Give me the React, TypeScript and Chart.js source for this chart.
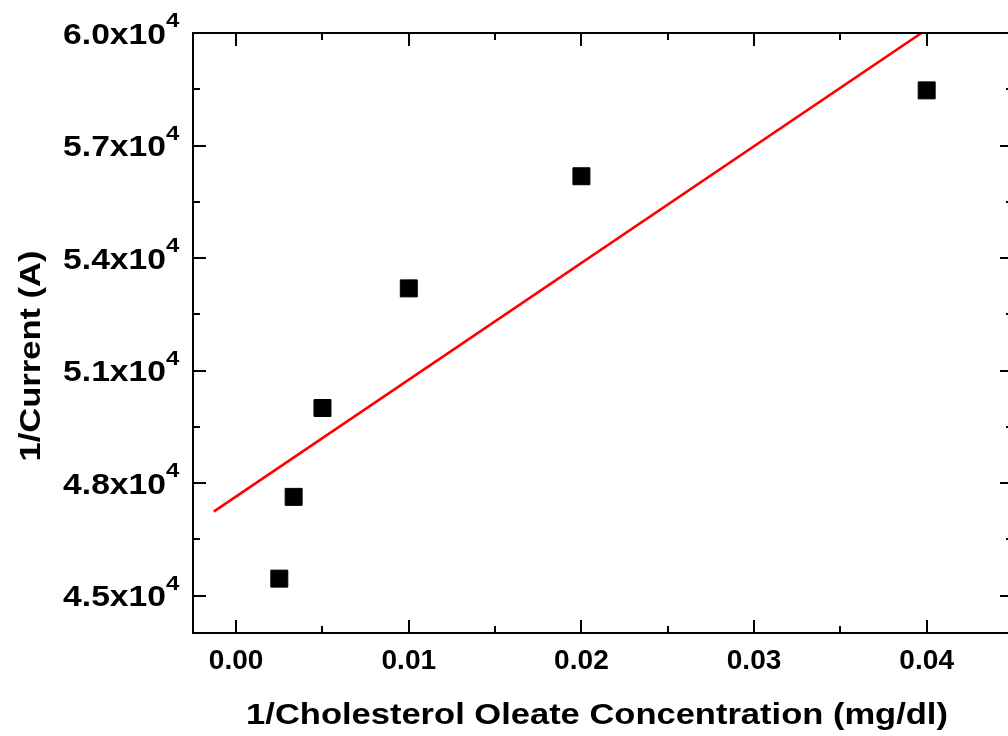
import React, { useEffect, useRef } from "react";
import { Chart, registerables } from "chart.js";

Chart.register(...registerables);

// ---- data ----
const concentrationInv = [0.0025, 0.00333, 0.005, 0.01, 0.02, 0.04];
const currentInv = [45450, 47630, 50000, 53190, 56180, 58470];
const fitX = [-0.0013, 0.0397];
const fitY = [47235, 60000];

// ---- axes ----
const xMin = -0.0025;
const xMax = 0.045;
const yMin = 44000;
const yMax = 60000;
const xMajorTicks = [0, 0.01, 0.02, 0.03, 0.04];
const xTickLabels = ["0.00", "0.01", "0.02", "0.03", "0.04"];
const xMinorTicks = [0.005, 0.015, 0.025, 0.035];
const yMajorTicks = [45000, 48000, 51000, 54000, 57000, 60000];
const yTickMantissas = ["4.5x10", "4.8x10", "5.1x10", "5.4x10", "5.7x10", "6.0x10"];
const yTickExponent = "4";
const yMinorTicks = [46500, 49500, 52500, 55500, 58500];
const xTitle = "1/Cholesterol Oleate Concentration (mg/dl)";
const yTitle = "1/Current (A)";

const FONT = '"Liberation Sans", Arial, Helvetica, sans-serif';

const framePlugin = {
  id: "framePlugin",
  afterDatasetsDraw(chart: any) {
    const ctx: CanvasRenderingContext2D = chart.ctx;
    const { left, right, top, bottom } = chart.chartArea;
    const xs = chart.scales.x;
    const ys = chart.scales.y;
    const major = 13;
    const minor = 7;
    ctx.save();
    ctx.strokeStyle = "#000";
    ctx.lineWidth = 2;
    ctx.lineCap = "butt";
    ctx.strokeRect(left, top, right - left, bottom - top);
    ctx.beginPath();
    const tickX = (v: number, len: number) => {
      const px = Math.round(xs.getPixelForValue(v));
      ctx.moveTo(px, bottom);
      ctx.lineTo(px, bottom - len);
      ctx.moveTo(px, top);
      ctx.lineTo(px, top + len);
    };
    const tickY = (v: number, len: number) => {
      const py = Math.round(ys.getPixelForValue(v));
      ctx.moveTo(left, py);
      ctx.lineTo(left + len, py);
      ctx.moveTo(right, py);
      ctx.lineTo(right - len, py);
    };
    xMajorTicks.forEach((v) => tickX(v, major));
    xMinorTicks.forEach((v) => tickX(v, minor));
    yMajorTicks.forEach((v) => tickY(v, major));
    yMinorTicks.forEach((v) => tickY(v, minor));
    ctx.stroke();

    ctx.fillStyle = "#000";
    ctx.textBaseline = "alphabetic";

    // x tick labels
    ctx.font = `bold 27px ${FONT}`;
    ctx.textAlign = "center";
    xMajorTicks.forEach((v, i) => {
      const px = xs.getPixelForValue(v);
      ctx.save();
      ctx.translate(px, 669);
      ctx.scale(1.04, 1);
      ctx.fillText(xTickLabels[i], 0, 0);
      ctx.restore();
    });

    // y tick labels with superscript exponent
    yMajorTicks.forEach((v, i) => {
      const py = ys.getPixelForValue(v);
      ctx.save();
      ctx.font = `bold 29px ${FONT}`;
      ctx.textAlign = "right";
      ctx.translate(166, py + 10.5);
      ctx.scale(1.16, 1);
      ctx.fillText(yTickMantissas[i], 0, 0);
      ctx.restore();
      ctx.save();
      ctx.font = `bold 20px ${FONT}`;
      ctx.textAlign = "left";
      ctx.translate(166, py - 6);
      ctx.scale(1.2, 1);
      ctx.fillText(yTickExponent, 0, 0);
      ctx.restore();
    });

    // x title
    ctx.save();
    ctx.font = `bold 29px ${FONT}`;
    ctx.textAlign = "center";
    ctx.translate(597, 724);
    ctx.scale(1.19, 1);
    ctx.fillText(xTitle, 0, 0);
    ctx.restore();

    // y title
    ctx.save();
    ctx.font = `bold 30px ${FONT}`;
    ctx.textAlign = "center";
    ctx.translate(40, 356);
    ctx.rotate(-Math.PI / 2);
    ctx.scale(1.15, 1);
    ctx.fillText(yTitle, 0, 0);
    ctx.restore();

    ctx.restore();
  },
};

export default function App() {
  const canvasRef = useRef<HTMLCanvasElement | null>(null);

  useEffect(() => {
    if (!canvasRef.current) return;
    const chart = new Chart(canvasRef.current, {
      type: "scatter",
      data: {
        datasets: [
          {
            type: "line",
            label: "Linear fit",
            data: fitX.map((x, i) => ({ x, y: fitY[i] })),
            borderColor: "#ff0000",
            borderWidth: 2.6,
            pointRadius: 0,
            fill: false,
            tension: 0,
            order: 2,
          } as any,
          {
            type: "scatter",
            label: "Data",
            data: concentrationInv.map((x, i) => ({ x, y: currentInv[i] })),
            pointStyle: "rect",
            pointRadius: 12,
            backgroundColor: "#000",
            borderColor: "#000",
            borderWidth: 1,
            order: 1,
          },
        ],
      },
      options: {
        responsive: false,
        animation: false,
        devicePixelRatio: 1,
        layout: {
          autoPadding: false,
          padding: { left: 193, top: 33, right: 7, bottom: 103 },
        },
        plugins: {
          legend: { display: false },
          tooltip: { enabled: false },
        },
        scales: {
          x: { type: "linear", min: xMin, max: xMax, display: false },
          y: { type: "linear", min: yMin, max: yMax, display: false },
        },
      },
      plugins: [framePlugin],
    });
    return () => chart.destroy();
  }, []);

  return (
    <div
      style={{
        position: "fixed",
        left: 0,
        top: 0,
        width: 1008,
        height: 736,
        overflow: "hidden",
        background: "#fff",
      }}
    >
      <canvas
        ref={canvasRef}
        width={1020}
        height={736}
        style={{ display: "block", width: 1020, height: 736 }}
      />
    </div>
  );
}
